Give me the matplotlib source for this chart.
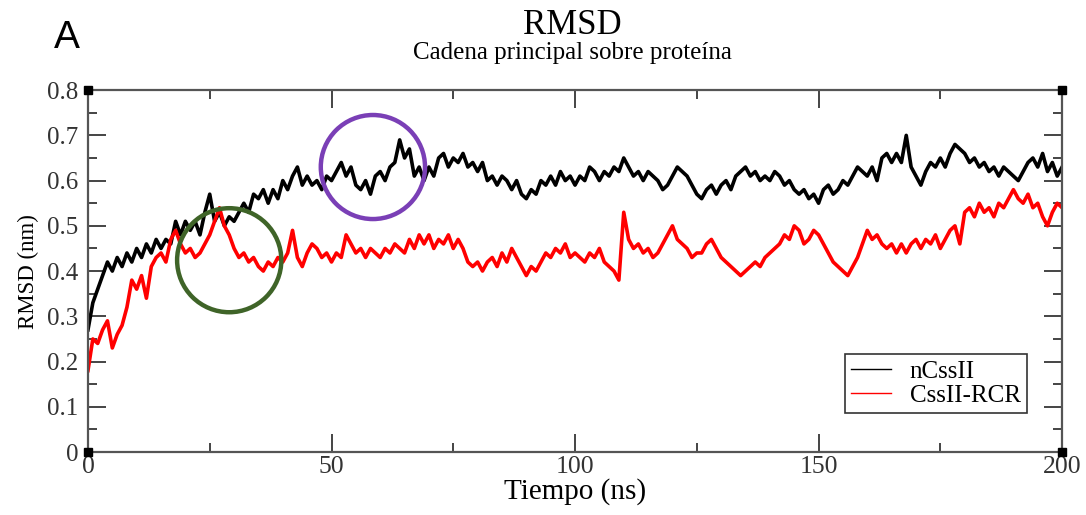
import numpy as np
import matplotlib
matplotlib.use('Agg')
import matplotlib.pyplot as plt
from matplotlib.patches import Ellipse

# RMSD values, one per ns (0..200)
tiempo = np.arange(0, 201)

ncssii = [0.27, 0.33, 0.36, 0.39, 0.42, 0.40, 0.43, 0.41, 0.44, 0.42,
          0.45, 0.43, 0.46, 0.44, 0.47, 0.45, 0.47, 0.46, 0.51, 0.48,
          0.51, 0.49, 0.51, 0.48, 0.53, 0.57, 0.51, 0.53, 0.50, 0.52,
          0.51, 0.53, 0.55, 0.53, 0.57, 0.56, 0.58, 0.55, 0.58, 0.56,
          0.60, 0.58, 0.61, 0.63, 0.59, 0.61, 0.59, 0.60, 0.58, 0.61,
          0.60, 0.62, 0.64, 0.61, 0.63, 0.59, 0.58, 0.60, 0.57, 0.61,
          0.62, 0.60, 0.63, 0.64, 0.69, 0.65, 0.67, 0.61, 0.63, 0.60,
          0.63, 0.61, 0.65, 0.66, 0.63, 0.65, 0.64, 0.66, 0.63, 0.64,
          0.62, 0.64, 0.60, 0.61, 0.59, 0.61, 0.60, 0.58, 0.60, 0.57,
          0.56, 0.58, 0.57, 0.60, 0.59, 0.61, 0.59, 0.62, 0.60, 0.61,
          0.59, 0.61, 0.60, 0.63, 0.62, 0.60, 0.62, 0.61, 0.63, 0.62,
          0.65, 0.63, 0.61, 0.62, 0.60, 0.62, 0.61, 0.60, 0.58, 0.59,
          0.61, 0.63, 0.62, 0.61, 0.59, 0.57, 0.56, 0.58, 0.59, 0.57,
          0.59, 0.60, 0.58, 0.61, 0.62, 0.63, 0.61, 0.62, 0.60, 0.61,
          0.60, 0.62, 0.61, 0.59, 0.60, 0.58, 0.57, 0.58, 0.56, 0.57,
          0.55, 0.58, 0.59, 0.57, 0.58, 0.60, 0.59, 0.61, 0.63, 0.62,
          0.61, 0.63, 0.60, 0.65, 0.66, 0.64, 0.66, 0.64, 0.70, 0.63,
          0.61, 0.59, 0.62, 0.64, 0.63, 0.65, 0.63, 0.66, 0.68, 0.67,
          0.66, 0.64, 0.65, 0.63, 0.64, 0.62, 0.63, 0.61, 0.63, 0.62,
          0.61, 0.60, 0.62, 0.64, 0.65, 0.63, 0.66, 0.62, 0.64, 0.61,
          0.63]

cssii_rcr = [0.18, 0.25, 0.24, 0.27, 0.29, 0.23, 0.26, 0.28, 0.32, 0.38,
             0.36, 0.39, 0.34, 0.41, 0.43, 0.44, 0.42, 0.47, 0.49, 0.46,
             0.44, 0.45, 0.43, 0.44, 0.46, 0.48, 0.51, 0.54, 0.50, 0.48,
             0.45, 0.43, 0.44, 0.42, 0.43, 0.41, 0.40, 0.42, 0.41, 0.43,
             0.42, 0.44, 0.49, 0.43, 0.41, 0.44, 0.46, 0.45, 0.43, 0.44,
             0.42, 0.44, 0.43, 0.48, 0.46, 0.44, 0.45, 0.43, 0.45, 0.44,
             0.43, 0.45, 0.44, 0.46, 0.45, 0.44, 0.47, 0.45, 0.48, 0.46,
             0.48, 0.45, 0.47, 0.46, 0.48, 0.45, 0.47, 0.45, 0.42, 0.41,
             0.42, 0.40, 0.42, 0.43, 0.41, 0.44, 0.42, 0.45, 0.43, 0.41,
             0.39, 0.41, 0.40, 0.42, 0.44, 0.43, 0.45, 0.44, 0.46, 0.43,
             0.44, 0.43, 0.42, 0.44, 0.43, 0.45, 0.42, 0.41, 0.40, 0.38,
             0.53, 0.47, 0.45, 0.46, 0.44, 0.45, 0.43, 0.44, 0.46, 0.48,
             0.50, 0.47, 0.46, 0.45, 0.43, 0.44, 0.44, 0.46, 0.47, 0.45,
             0.43, 0.42, 0.41, 0.40, 0.39, 0.40, 0.41, 0.42, 0.41, 0.43,
             0.44, 0.45, 0.46, 0.48, 0.47, 0.50, 0.49, 0.46, 0.47, 0.49,
             0.48, 0.46, 0.44, 0.42, 0.41, 0.40, 0.39, 0.41, 0.43, 0.46,
             0.49, 0.47, 0.48, 0.46, 0.45, 0.46, 0.44, 0.46, 0.44, 0.46,
             0.47, 0.45, 0.47, 0.46, 0.48, 0.45, 0.47, 0.49, 0.50, 0.46,
             0.53, 0.54, 0.52, 0.55, 0.53, 0.54, 0.52, 0.55, 0.54, 0.56,
             0.58, 0.56, 0.55, 0.57, 0.54, 0.55, 0.52, 0.50, 0.53, 0.55,
             0.54]

serif = 'Liberation Serif'

fig = plt.figure(figsize=(10.86, 5.15), dpi=100)
ax = fig.add_axes([0.081, 0.1223, 0.897, 0.7027])

ax.plot(tiempo, ncssii, color='black', lw=2.6, label='nCssII')
ax.plot(tiempo, cssii_rcr, color='red', lw=2.6, label='CssII-RCR')

ax.set_xlim(0, 200)
ax.set_ylim(0, 0.8)
ax.set_xticks([0, 50, 100, 150, 200])
ax.set_xticks([25, 75, 125, 175], minor=True)
ax.set_yticks(np.arange(0, 0.81, 0.1))
ax.set_yticks(np.arange(0.05, 0.8, 0.1), minor=True)
ax.set_yticklabels(['0', '0.1', '0.2', '0.3', '0.4', '0.5', '0.6', '0.7', '0.8'])
ax.tick_params(which='both', direction='in', top=True, right=True, color='#444444', width=1.4)
ax.tick_params(which='major', length=13)
ax.tick_params(which='minor', length=6.5)
ax.tick_params(axis='x', labelsize=18.5, pad=3)
ax.tick_params(axis='y', labelsize=18, pad=7)
for lab in ax.get_xticklabels() + ax.get_yticklabels():
    lab.set_fontfamily(serif)
    lab.set_color('#333333')
for sp in ax.spines.values():
    sp.set_linewidth(1.6)
    sp.set_color('#555555')

# little black squares at the corners
ax.plot([0, 0, 200, 200], [0, 0.8, 0, 0.8], 's', color='black', ms=6, clip_on=False, zorder=5)

ax.set_xlabel('Tiempo (ns)', fontfamily=serif, fontsize=21, labelpad=0)
ax.set_ylabel('RMSD (nm)', fontfamily=serif, fontsize=16.5, labelpad=6)

# highlighted regions
ax.add_patch(Ellipse((29.0, 0.424), 21.4, 0.23, fill=False, ec='#3f6428', lw=3.2, zorder=6))
ax.add_patch(Ellipse((58.5, 0.630), 21.4, 0.23, fill=False, ec='#7a3fb6', lw=3.2, zorder=6))

leg = ax.legend(loc='lower right', bbox_to_anchor=(0.964, 0.108), borderaxespad=0,
                prop={'family': serif, 'size': 18}, fancybox=False, framealpha=1,
                edgecolor='#333333', handlelength=1.6, handletextpad=0.75,
                borderpad=0.25, labelspacing=0.05)
leg.get_frame().set_linewidth(1.2)
for ln in leg.get_lines():
    ln.set_linewidth(1)

fig.text(0.527, 1 - 26 / 515, 'RMSD', ha='center', va='center', fontfamily=serif, fontsize=25)
fig.text(0.527, 1 - 53 / 515, 'Cadena principal sobre proteína', ha='center', va='center',
         fontfamily=serif, fontsize=18)
fig.text(0.062, 1 - 38 / 515, 'A', ha='center', va='center', fontfamily='Liberation Sans', fontsize=28)

fig.savefig('out.png', dpi=100)
